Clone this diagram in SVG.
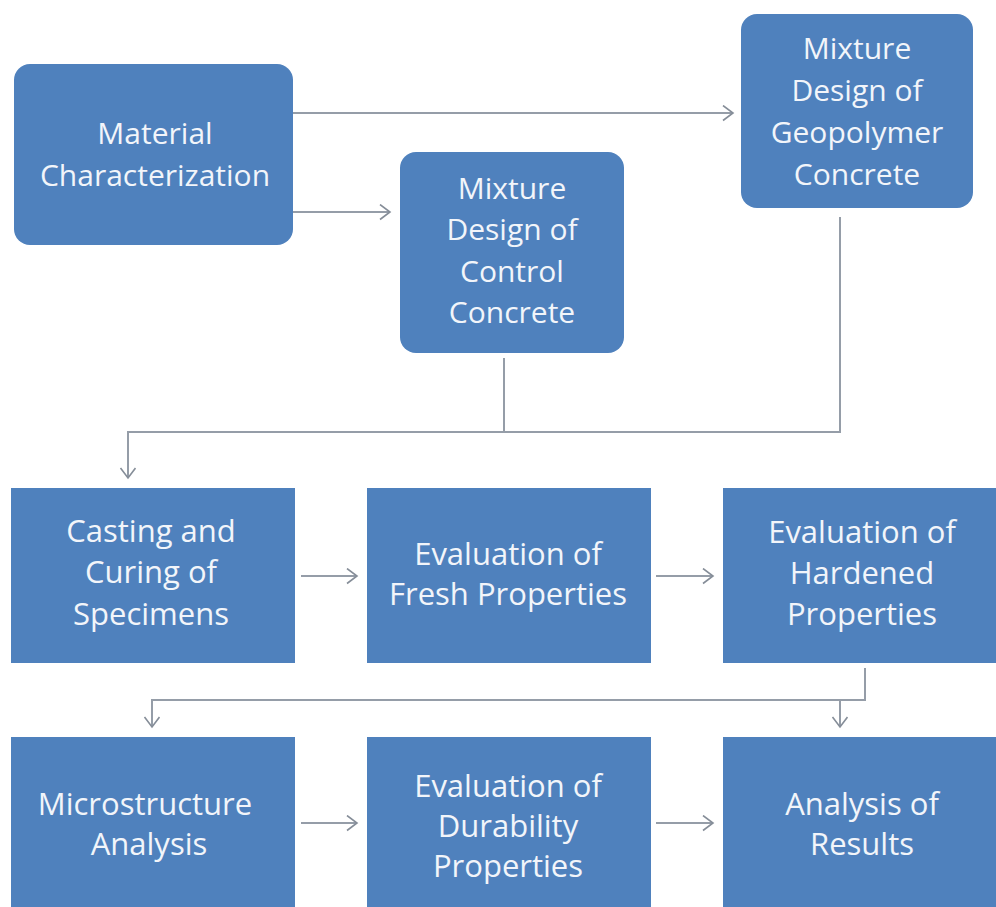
<svg xmlns="http://www.w3.org/2000/svg" width="996" height="907" viewBox="0 0 996 907">
<style>
.box{fill:#4F81BD}
.t{fill:#F2F5FA;font-family:"Open Sans","Liberation Sans",sans-serif;font-size:30px;text-anchor:middle}
.t2{fill:#F2F5FA;font-family:"Open Sans","Liberation Sans",sans-serif;font-size:31px;text-anchor:middle}
.c{fill:none;stroke:#959DA8;stroke-width:2}
</style>
<defs>
<marker id="ah" markerUnits="userSpaceOnUse" markerWidth="14" markerHeight="18" refX="11" refY="8" orient="auto">
<path d="M1,0.5 L11,8 L1,15.5" fill="none" stroke="#858D98" stroke-width="1.6"/>
</marker>
</defs>
<rect width="996" height="907" fill="#fff"/>
<g id="connectors">
<path class="c" d="M293,113 H733" marker-end="url(#ah)"/>
<path class="c" d="M293,212 H390" marker-end="url(#ah)"/>
<path class="c" d="M504,358 V432"/>
<path class="c" d="M840,217 V432 H128 V478" marker-end="url(#ah)"/>
<path class="c" d="M301,576 H357" marker-end="url(#ah)"/>
<path class="c" d="M656,576 H713" marker-end="url(#ah)"/>
<path class="c" d="M865,668 V700 H152 V727" marker-end="url(#ah)"/>
<path class="c" d="M840,700 V727" marker-end="url(#ah)"/>
<path class="c" d="M301,823 H357" marker-end="url(#ah)"/>
<path class="c" d="M656,823 H713" marker-end="url(#ah)"/>
</g>
<g id="material">
<rect class="box" x="14" y="64" width="279" height="181" rx="16"/>
<text class="t" x="155" y="144">Material</text>
<text class="t" x="155" y="186">Characterization</text>
</g>
<g id="control">
<rect class="box" x="400" y="152" width="224" height="201" rx="16"/>
<text class="t" x="512" y="199">Mixture</text>
<text class="t" x="512" y="240">Design of</text>
<text class="t" x="512" y="282">Control</text>
<text class="t" x="512" y="323">Concrete</text>
</g>
<g id="geopolymer">
<rect class="box" x="741" y="14" width="232" height="194" rx="16"/>
<text class="t" x="857" y="59">Mixture</text>
<text class="t" x="857" y="101">Design of</text>
<text class="t" x="857" y="143">Geopolymer</text>
<text class="t" x="857" y="185">Concrete</text>
</g>
<g id="casting">
<rect class="box" x="11" y="488" width="284" height="175"/>
<text class="t2" x="151" y="542">Casting and</text>
<text class="t2" x="151" y="583">Curing of</text>
<text class="t2" x="151" y="625">Specimens</text>
</g>
<g id="fresh">
<rect class="box" x="367" y="488" width="284" height="175"/>
<text class="t2" x="508" y="565">Evaluation of</text>
<text class="t2" x="508" y="605">Fresh Properties</text>
</g>
<g id="hardened">
<rect class="box" x="723" y="488" width="280" height="175"/>
<text class="t2" x="862" y="543">Evaluation of</text>
<text class="t2" x="862" y="584">Hardened</text>
<text class="t2" x="862" y="625">Properties</text>
</g>
<g id="microstructure">
<rect class="box" x="11" y="737" width="284" height="175"/>
<text class="t2" x="145" y="815">Microstructure</text>
<text class="t2" x="149" y="855">Analysis</text>
</g>
<g id="durability">
<rect class="box" x="367" y="737" width="284" height="175"/>
<text class="t2" x="508" y="797">Evaluation of</text>
<text class="t2" x="508" y="837">Durability</text>
<text class="t2" x="508" y="877">Properties</text>
</g>
<g id="results">
<rect class="box" x="723" y="737" width="280" height="175"/>
<text class="t2" x="862" y="815">Analysis of</text>
<text class="t2" x="862" y="855">Results</text>
</g>
</svg>
